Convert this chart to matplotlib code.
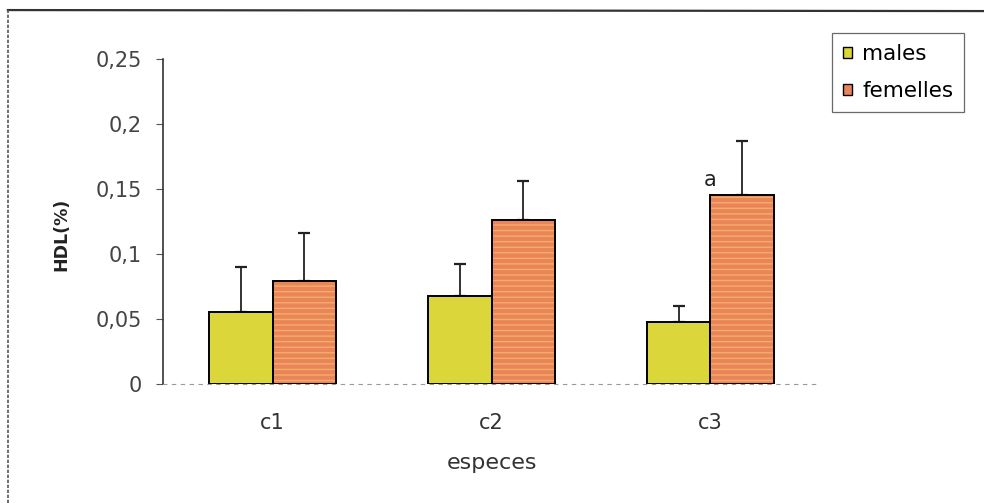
"""
HDL (%) par espece et par sexe, barres avec ecart-type.
"""
import matplotlib
matplotlib.use("Agg")
import matplotlib.pyplot as plt
import numpy as np
from matplotlib.lines import Line2D

especes = ["c1", "c2", "c3"]
males = [0.055, 0.068, 0.048]
males_err = [0.035, 0.024, 0.012]
femelles = [0.079, 0.126, 0.145]
femelles_err = [0.037, 0.030, 0.042]
yticks = [0, 0.05, 0.1, 0.15, 0.2, 0.25]
ytick_labels = ["0", "0,05", "0,1", "0,15", "0,2", "0,25"]

plt.rcParams["font.family"] = ["DejaVu Sans"]

fig = plt.figure(figsize=(9.84, 5.03), dpi=100)
ax = fig.add_axes([0.1657, 0.2366, 0.6676, 0.6461])

x = np.arange(len(especes))
w = 0.29
c_male = "#dbd63a"
c_fem = "#ea855a"

ax.bar(x - w / 2, males, w, color=c_male, edgecolor="black", linewidth=1.4, zorder=2)
ax.bar(x + w / 2, femelles, w, color=c_fem, linewidth=0, zorder=2)
# stries horizontales claires dans les barres femelles
ax.bar(x + w / 2, femelles, w, color="none", edgecolor="#f3ae66", hatch="---",
       linewidth=0, zorder=3)
ax.bar(x + w / 2, femelles, w, color="none", edgecolor="black", linewidth=1.4, zorder=4)

ax.errorbar(x - w / 2, males, yerr=[np.zeros(3), males_err], fmt="none",
            ecolor="#222222", elinewidth=1.3, capsize=4.5, capthick=1.6, zorder=1)
ax.errorbar(x + w / 2, femelles, yerr=[np.zeros(3), femelles_err], fmt="none",
            ecolor="#222222", elinewidth=1.3, capsize=4.5, capthick=1.6, zorder=1)

ax.text(x[2], femelles[2] + 0.004, "a", ha="center", va="bottom",
        fontsize=15, color="#222222")

ax.set_xlim(-0.5, 2.5)
ax.set_ylim(0, 0.25)
ax.set_yticks(yticks)
ax.set_yticklabels(ytick_labels, fontsize=15, color="#444444")
ax.set_xticks(x)
ax.set_xticklabels(especes, fontsize=15, color="#333333")
ax.tick_params(axis="x", length=0, pad=21)
ax.tick_params(axis="y", length=5, width=0.8, color="#555555", pad=10.5)

for s in ["top", "right"]:
    ax.spines[s].set_visible(False)
ax.spines["left"].set_color("#333333")
ax.spines["left"].set_linewidth(1.2)
ax.spines["bottom"].set_color("#999999")
ax.spines["bottom"].set_linewidth(0.8)
ax.spines["bottom"].set_linestyle((0, (3, 5)))

ax.set_xlabel("especes", fontsize=16, color="#333333", labelpad=14)
ax.set_ylabel("HDL(%)", fontsize=12.5, fontweight="bold", color="#222222")
ax.yaxis.set_label_coords(-0.141, 0.46)

leg = fig.legend(["males", "femelles"], loc="upper left",
                 bbox_to_anchor=(0.8455, 0.934), fontsize=15.5,
                 frameon=True, fancybox=False, edgecolor="#444444",
                 handlelength=0.45, handleheight=0.45, handletextpad=0.45,
                 labelspacing=0.8, borderpad=0.5, borderaxespad=0)
for h in leg.legend_handles:
    h.set_edgecolor("black")
    h.set_linewidth(1.0)
leg.legend_handles[1].set_hatch(None)
leg.get_frame().set_linewidth(0.9)

# cadre du graphique (scan)
fig.add_artist(Line2D([0.008, 1.0], [0.98, 0.978], color="#333333", lw=1.6))
fig.add_artist(Line2D([0.008, 0.008], [0.0, 0.98], color="#555555", lw=1.2,
                      linestyle=(0, (2, 1))))

fig.savefig("out.png", dpi=100)
plt.close(fig)
print("Saved: out.png")
